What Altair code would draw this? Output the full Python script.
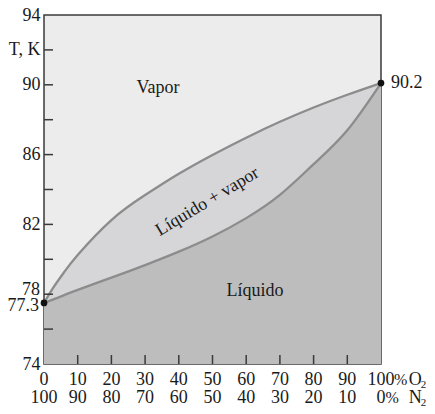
import altair as alt
import pandas as pd

# O2 mole percent and temperatures (K)
o2_pct = [0, 3, 6, 10, 20, 30, 40, 50, 60, 70, 80, 90, 100]
dew_T = [77.5, 78.45, 79.27, 80.25, 82.25, 83.68, 84.9, 85.98, 86.97, 87.88, 88.7, 89.43, 90.1]
bubble_T = [77.5, 77.72, 77.95, 78.25, 78.95, 79.67, 80.44, 81.31, 82.36, 83.69, 85.45, 87.4, 90.1]

end_pct = [0, 100]
end_T = [77.5, 90.1]
end_labels = ["77.3", "90.2"]

region_labels = ["Vapor", "Líquido", "Líquido + vapor"]
region_x = [33.8, 62.6, 48.5]
region_y = [89.8, 78.2, 83.3]

y_tick_vals = [76, 78, 80, 82, 84, 86, 88, 90, 92]
x_tick_vals = [10, 20, 30, 40, 50, 60, 70, 80, 90]

# x-axis label rows: O2 % (top row) and N2 % (bottom row)
x_label_pos = [0, 10, 20, 30, 40, 50, 60, 70, 80, 90, 100]
o2_labels = ["0", "10", "20", "30", "40", "50", "60", "70", "80", "90", "100"]
n2_labels = ["100", "90", "80", "70", "60", "50", "40", "30", "20", "10", "0"]
row_T = [73.11, 72.08]          # vertical positions of the two label rows
pct_dx = [13.5, 4.5]            # "%" after "100" and after "0"

species = ["O", "N"]
species_x = [110.2, 110.2]

FONT = "Liberation Serif"
TXT = "#1a1a1a"

curves = pd.DataFrame({"o2": o2_pct, "dew": dew_T, "bubble": bubble_T})
ends = pd.DataFrame({"o2": end_pct, "T": end_T, "label": end_labels})
regions = pd.DataFrame({"x": region_x, "y": region_y, "text": region_labels})
yt = pd.DataFrame({"v": y_tick_vals})
xt = pd.DataFrame({"v": x_tick_vals})
xl = pd.DataFrame({
    "x": x_label_pos * 2,
    "y": [row_T[0]] * len(x_label_pos) + [row_T[1]] * len(x_label_pos),
    "t": o2_labels + n2_labels,
})
pc = pd.DataFrame({"x": [100, 100], "y": row_T, "dx": pct_dx})
sp = pd.DataFrame({"x": species_x, "y": row_T, "t": species})
l78 = pd.DataFrame({"x": [0], "y": [78], "t": ["78"]})

xs = alt.Scale(domain=[0, 100], nice=False, zero=False)
ys = alt.Scale(domain=[74, 94], nice=False, zero=False)

y_axis = alt.Axis(
    values=[74, 82, 86, 90, 92, 94],
    labelExpr="datum.value == 92 ? 'T, K' : datum.label",
    domain=False, ticks=False, tickSize=0, grid=False, labelPadding=4,
    labelFont=FONT, labelFontSize=18, labelColor=TXT, labelFlush=False,
    labelOverlap=False, labelBound=False, title=None,
)


def X(f):
    return alt.X(f, type="quantitative", scale=xs, axis=None)


def Y(f):
    return alt.Y(f, type="quantitative", scale=ys, axis=y_axis)


base = alt.Chart(curves)
INTERP = "natural"

liquid = base.mark_area(color="#bdbdbd", interpolate=INTERP).encode(
    x=X("o2"), y=Y("bubble"), y2=alt.datum(74),
)
twophase = base.mark_area(color="#d6d6d8", interpolate=INTERP).encode(
    x=X("o2"), y=Y("bubble"), y2="dew:Q",
)
dew_line = base.mark_line(color="#8c8c8c", strokeWidth=2.3, interpolate=INTERP).encode(
    x=X("o2"), y=Y("dew")
)
bub_line = base.mark_line(color="#8c8c8c", strokeWidth=2.3, interpolate=INTERP).encode(
    x=X("o2"), y=Y("bubble")
)

ytick = alt.Chart(yt).mark_rule(color="#3a3a3a", strokeWidth=1.5).encode(
    y=Y("v"), x=alt.value(0), x2=alt.value(9)
)
xtick = alt.Chart(xt).mark_rule(color="#3a3a3a", strokeWidth=1.5).encode(
    x=X("v"), y=alt.value(349), y2=alt.value(340)
)

dots = alt.Chart(ends).mark_circle(color="#111", size=45, opacity=1).encode(
    x=X("o2"), y=Y("T")
)
txt = dict(font=FONT, fontSize=18, color=TXT, clip=False)
lab77 = alt.Chart(ends).transform_filter("datum.o2 == 0").mark_text(
    align="right", baseline="middle", dx=-5, dy=3, **txt
).encode(x=X("o2"), y=Y("T"), text="label:N")
lab90 = alt.Chart(ends).transform_filter("datum.o2 == 100").mark_text(
    align="left", baseline="middle", dx=10, **txt
).encode(x=X("o2"), y=Y("T"), text="label:N")
lab78 = alt.Chart(l78).mark_text(
    align="right", baseline="middle", dx=-4, dy=-4, **txt
).encode(x=X("x"), y=Y("y"), text="t:N")

reg_flat = alt.Chart(regions).transform_filter("datum.text != 'Líquido + vapor'").mark_text(
    align="center", baseline="middle", **txt
).encode(x=X("x"), y=Y("y"), text="text:N")
reg_rot = alt.Chart(regions).transform_filter("datum.text == 'Líquido + vapor'").mark_text(
    align="center", baseline="middle", angle=329, **txt
).encode(x=X("x"), y=Y("y"), text="text:N")

xlabels = alt.Chart(xl).mark_text(align="center", baseline="middle", **txt).encode(
    x=X("x"), y=Y("y"), text="t:N"
)
pct_style = dict(font=FONT, fontSize=16, color=TXT, clip=False, align="left", baseline="middle")
pct0 = alt.Chart(pc).transform_filter("datum.dx > 10").mark_text(
    dx=13, **pct_style
).encode(x=X("x"), y=Y("y"), text=alt.value("%"))
pct1 = alt.Chart(pc).transform_filter("datum.dx < 10").mark_text(
    dx=4.5, **pct_style
).encode(x=X("x"), y=Y("y"), text=alt.value("%"))

sp_main = alt.Chart(sp).mark_text(align="center", baseline="middle", **txt).encode(
    x=X("x"), y=Y("y"), text="t:N"
)
sp_sub = alt.Chart(sp).mark_text(
    font=FONT, fontSize=11, color=TXT, align="left", baseline="middle", dx=5.5, dy=5, clip=False
).encode(x=X("x"), y=Y("y"), text=alt.value("2"))

chart = alt.layer(
    liquid, twophase, dew_line, bub_line, ytick, xtick, dots,
    lab77, lab90, lab78, reg_flat, reg_rot, xlabels, pct0, pct1, sp_main, sp_sub
).properties(
    width=337, height=349,
    autosize=alt.AutoSizeParams(type="none"),
    padding={"left": 36, "top": 7, "right": 46, "bottom": 42},
    background="white",
).configure_view(
    fill="#ececec", stroke="#3a3a3a", strokeWidth=1.5
)

chart.save("out.html", embed_options={"renderer": "svg", "actions": False})
